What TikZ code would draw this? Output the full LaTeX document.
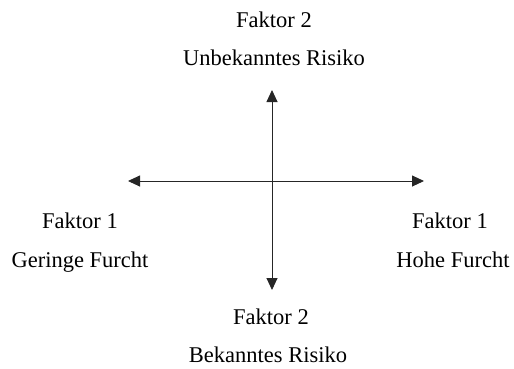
\documentclass[tikz,border=0pt]{standalone}
\usepackage{fontspec}
\setmainfont{Liberation Serif}
\usetikzlibrary{arrows.meta}

\begin{document}
\begin{tikzpicture}[x=1pt,y=-1pt,
  label/.style={anchor=base,inner sep=0pt,font=\fontsize{22.5}{27}\selectfont},
  axis/.style={line width=0.9pt,draw=black!85,
    {Triangle[length=12pt,width=11pt]}-{Triangle[length=12pt,width=11pt]}}]
  \useasboundingbox (0,0) rectangle (514,368);

  % axis end points
  \coordinate (top) at (272,90);
  \coordinate (bottom) at (272,290);
  \coordinate (left) at (128,181);
  \coordinate (right) at (424,181);

  % the two axes
  \draw[axis] (left) -- (right);
  \draw[axis] (bottom) -- (top);

  % labels
  \node[label] (t1) at (274,27) {Faktor 2};
  \node[label] (t2) at (274,65) {Unbekanntes Risiko};
  \node[label] (l1) at (80,228) {Faktor 1};
  \node[label] (l2) at (80,267) {Geringe Furcht};
  \node[label] (r1) at (450,228) {Faktor 1};
  \node[label] (r2) at (453,267) {Hohe Furcht};
  \node[label] (b1) at (271,324) {Faktor 2};
  \node[label] (b2) at (268,362) {Bekanntes Risiko};
\end{tikzpicture}
\end{document}
